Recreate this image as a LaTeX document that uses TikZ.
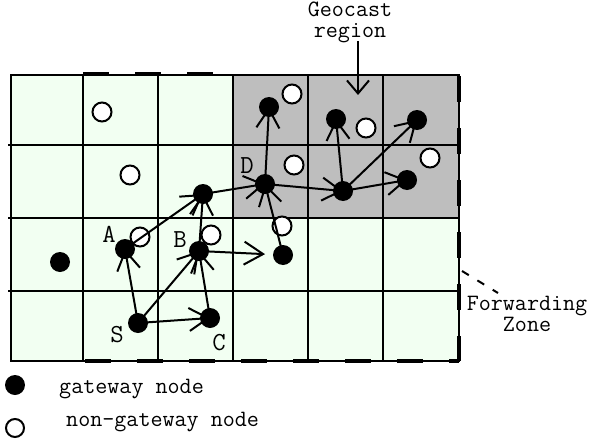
\documentclass[tikz,border=0pt]{standalone}
\usepackage{fontspec}
\usetikzlibrary{arrows.meta}
\definecolor{zonegreen}{RGB}{242,255,242}
\definecolor{geogray}{RGB}{190,190,190}
\tikzset{
  gridline/.style={line width=2pt},
  zoneedge/.style={line width=4.5pt, dash pattern=on 26pt off 26pt},
  gw/.style={circle, fill=black, inner sep=0pt, minimum size=20pt},
  ngw/.style={circle, draw=black, fill=white, line width=2pt, inner sep=0pt, minimum size=19pt},
  hop/.style={line width=2pt, -{Straight Barb[length=19pt,width=23pt]}},
  txt/.style={font=\ttfamily\fontsize{23.4}{26}\selectfont, inner sep=0pt},
  callout/.style={font=\ttfamily\fontsize{23.4}{20.5}\selectfont, inner sep=0pt, align=center, anchor=base},
  lbl/.style={font=\ttfamily\fontsize{26}{28}\selectfont, inner sep=0pt, anchor=base},
}
\begin{document}
\begin{tikzpicture}[x=1pt,y=-1pt]
\useasboundingbox (0,0) rectangle (593,441);

% cells
\fill[zonegreen] (11,75) rectangle (459,361);
\fill[geogray] (233,75) rectangle (459,218);
\foreach \x in {83,158,233,308,383} \draw[gridline] (\x,75) -- (\x,361);
\foreach \y in {145,218,291} \draw[gridline] (8,\y) -- (459,\y);
\draw[gridline] (11,75) rectangle (459,361);

% forwarding zone outline
\draw[zoneedge] (83,74) -- (233,74);
\draw[zoneedge] (459,76) -- (459,361);
\draw[zoneedge] (85,361) -- (459,361);
\draw[line width=2.8pt, dash pattern=on 26pt off 26pt] (83,76) -- (83,361);

% non-gateway nodes
\node[ngw] (n1) at (102,112) {};
\node[ngw] (n2) at (130,175) {};
\node[ngw] (n3) at (140,237) {};
\node[ngw] (n4) at (211,235) {};
\node[ngw] (n5) at (292,94) {};
\node[ngw] (n6) at (366,128) {};
\node[ngw] (n7) at (294,165) {};
\node[ngw] (n8) at (430,158) {};
\node[ngw] (n9) at (282,226) {};

% gateway positions
\coordinate (S) at (138,323);
\coordinate (A) at (125,249);
\coordinate (B) at (199,251);
\coordinate (C) at (210,318);
\coordinate (N) at (203,194);
\coordinate (E) at (283,255);
\coordinate (D) at (265,184);
\coordinate (G1) at (269,107);
\coordinate (G2) at (336,119);
\coordinate (M) at (343,191);
\coordinate (G3) at (417,120);
\coordinate (G4) at (407,180);
\coordinate (L) at (60,262);

% forwarding hops
\draw[hop] (S) -- (A);
\draw[hop] (S) -- (B);
\draw[hop] (S) -- (C);
\draw[hop] (C) -- (B);
\draw[hop] (A) -- (N);
\draw[hop] (B) -- (N);
\draw[hop, shorten >=18pt] (B) -- (E);
\draw[hop] (E) -- (D);
\draw[hop] (N) -- (D);
\draw[hop] (D) -- (G1);
\draw[hop] (D) -- (M);
\draw[hop] (M) -- (G2);
\draw[hop] (M) -- (G3);
\draw[hop] (M) -- (G4);

% gateway nodes
\foreach \p in {S,A,B,C,N,E,D,G1,G2,M,G3,G4,L}
  \node[gw] (g\p) at (\p) {};

% node labels
\node[lbl] (lA) at (109,242) {A};
\node[lbl] (lB) at (180,247) {B};
\node[lbl] (lS) at (117,342) {S};
\node[lbl] (lC) at (219,350) {C};
\node[lbl] (lD) at (247,173) {D};

% geocast region callout (base = baseline of the second line)
\node[callout] (geo) at (350,37.5) {Geocast\\region};
\coordinate (geoTail) at (358,41);
\coordinate (geoTip) at (358,95);
\draw[line width=2pt, -{Straight Barb[length=13pt,width=22pt]}] (geoTail) -- (geoTip);

% forwarding zone callout
\node[callout] (fz) at (527,331) {Forwarding\\Zone};
\coordinate (fzA) at (462,271);
\coordinate (fzB) at (498,293);
\draw[line width=2pt, dash pattern=on 8pt off 10pt] (fzA) -- (fzB);

% legend
\node[circle, fill=black, inner sep=0pt, minimum size=20pt] (keyG) at (15,385) {};
\node[circle, draw=black, fill=white, line width=2pt, inner sep=0pt, minimum size=18pt] (keyN) at (15,428) {};
\node[txt, anchor=base west] (keyGt) at (59,393) {gateway node};
\node[txt, anchor=base west] (keyNt) at (66,426) {non-gateway node};
\end{tikzpicture}
\end{document}
